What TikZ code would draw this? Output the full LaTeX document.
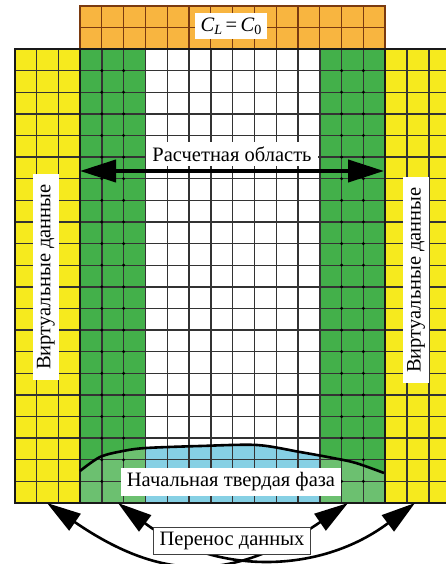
\documentclass[tikz,border=0pt]{standalone}
\usepackage{fontspec}
\setmainfont{Liberation Serif}
\usetikzlibrary{arrows.meta}
\definecolor{virtyellow}{HTML}{F6EA1E}
\definecolor{ghostgreen}{HTML}{43B04A}
\definecolor{solidgreen}{HTML}{6CC070}
\definecolor{inletorange}{HTML}{F8B540}
\definecolor{solidblue}{HTML}{86D0E4}
\definecolor{inletline}{HTML}{7A3A10}

\begin{document}
\begin{tikzpicture}[x=1pt,y=-1pt,
    lbl/.style={fill=white, inner xsep=6pt, inner ysep=4.5pt, font=\fontsize{20.5}{23}\selectfont},
    gridline/.style={line width=1.4pt, black!80},
    blockline/.style={line width=1.9pt, black!90},
    wide/.style={line width=4pt, {Triangle[length=36pt,width=22pt]}-{Triangle[length=36pt,width=22pt]}},
    transfer/.style={line width=2.6pt, {Triangle[length=34pt,width=20pt]}-{Triangle[length=34pt,width=20pt]}}]
    \useasboundingbox (0,0) rectangle (446,564);
    \clip (0,0) rectangle (446,564);
    \def\cw{21.8}
    \def\ch{21.62}
    % columns 0..20, rows 0..21
    \fill[virtyellow] (14.6,49) rectangle ({14.6+3*\cw},503);
    \fill[ghostgreen] ({14.6+3*\cw},49) rectangle ({14.6+6*\cw},503);
    \fill[white] ({14.6+6*\cw},49) rectangle ({14.6+14*\cw},503);
    \fill[ghostgreen] ({14.6+14*\cw},49) rectangle ({14.6+17*\cw},503);
    \fill[virtyellow] ({14.6+17*\cw},49) rectangle ({14.6+20*\cw},503);
    \fill[inletorange] ({14.6+3*\cw},{49-2*\ch}) rectangle ({14.6+17*\cw},49);

    % initial solid phase
    \begin{scope}
        \clip plot[smooth] coordinates {(80,471) (100,457) (123,451) (146,448) (200,446) (257,445) (300,452) (333,458) (356,463) (384,473)}
            -- (384,503) -- (80,503) -- cycle;
        \fill[solidgreen] (80,440) rectangle (384,503);
        \fill[solidblue] ({14.6+6*\cw},440) rectangle ({14.6+14*\cw},503);
    \end{scope}

    % mesh
    \foreach \k in {0,...,20}
        \draw[gridline] ({14.6+\k*\cw},49) -- ({14.6+\k*\cw},503);
    \foreach \j in {0,...,21}
        \draw[gridline] (14.6,{49+\j*\ch}) -- (450,{49+\j*\ch});
    \foreach \k in {3,...,17}
        \draw[inletline, line width=1.3pt] ({14.6+\k*\cw},{49-2*\ch}) -- ({14.6+\k*\cw},49);
    \draw[inletline, line width=1.3pt] ({14.6+3*\cw},{49-\ch}) -- ({14.6+17*\cw},{49-\ch});
    \draw[inletline, line width=1.5pt] ({14.6+3*\cw},49) rectangle ({14.6+17*\cw},{49-2*\ch});
    \foreach \k in {4,5,15,16}
        \foreach \j in {1,...,20}
            \fill[black] ({14.6+\k*\cw},{49+\j*\ch}) circle (1.6pt);
    \draw[blockline] (14.6,49) rectangle (450,503);
    \draw[blockline] ({14.6+3*\cw},49) -- ({14.6+3*\cw},503);
    \draw[blockline] ({14.6+17*\cw},49) -- ({14.6+17*\cw},503);

    % solid front
    \draw[line width=2.6pt] plot[smooth] coordinates {(80,471) (100,457) (123,451) (146,448) (200,446) (257,445) (300,452) (333,458) (356,463) (384,473)};

    % arrows
    \coordinate (domL) at (80,171);
    \coordinate (domR) at (384,171);
    \draw[wide] (domL) -- (domR);
    \coordinate (yelL) at (47,503);
    \coordinate (grnL) at (118,503);
    \coordinate (grnR) at (348,503);
    \coordinate (yelR) at (415,503);
    \draw[transfer] (yelL) .. controls (162,582) and (233,582) .. (grnR);
    \draw[transfer] (grnL) .. controls (214,575) and (319,575) .. (yelR);

    % labels
    \node[lbl] (inlet) at (231,26) {\textit{C}\raisebox{-0.3ex}{\fontsize{14}{15}\selectfont\textit{L}}\,=\,\textit{C}\raisebox{-0.3ex}{\fontsize{14}{15}\selectfont 0}};
    \node[lbl] (domain) at (232,154) {Расчетная область};
    \node[lbl, rotate=90, inner xsep=10pt] (virtL) at (46,277) {Виртуальные данные};
    \node[lbl, rotate=90, inner xsep=10pt] (virtR) at (416,280) {Виртуальные данные};
    \node[lbl] (solid) at (231,482) {Начальная твердая фаза};
    \node[lbl, draw=black!75, line width=1pt] (xfer) at (232,541) {Перенос данных};
\end{tikzpicture}
\end{document}
